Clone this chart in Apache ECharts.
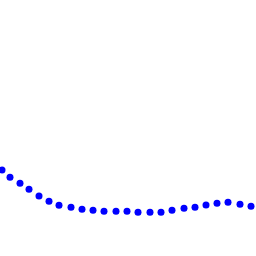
<!DOCTYPE html>
<html><head><meta charset="utf-8">
<script src="https://cdn.jsdelivr.net/npm/echarts@6/dist/echarts.min.js"></script>
<style>html,body{margin:0;padding:0;background:#fff}#c{width:256px;height:256px}</style>
</head><body><div id="c"></div>
<script>
const xValues = [2,10,20,29,39,49,59,71,82,93,104,116,127,138,150,161,172,184,195,206,217,228,240,251];
const yValues = [86,78.7,72.7,66.7,60,54.7,50.7,48.7,46.7,45.7,44.7,44.7,44.7,43.7,43.7,43.7,45.7,47.7,48.7,51,52.7,53.7,51.7,49.7];
const chart = echarts.init(document.getElementById('c'));
chart.setOption({
  animation:false,
  grid:{left:0,right:0,top:0,bottom:0},
  xAxis:{type:'value',min:0,max:256,show:false},
  yAxis:{type:'value',min:0,max:256,show:false},
  series:[{type:'scatter',symbolSize:7,itemStyle:{color:'#0000ff',opacity:1},
    data:xValues.map((x,i)=>[x,yValues[i]])}]
});
</script></body></html>
